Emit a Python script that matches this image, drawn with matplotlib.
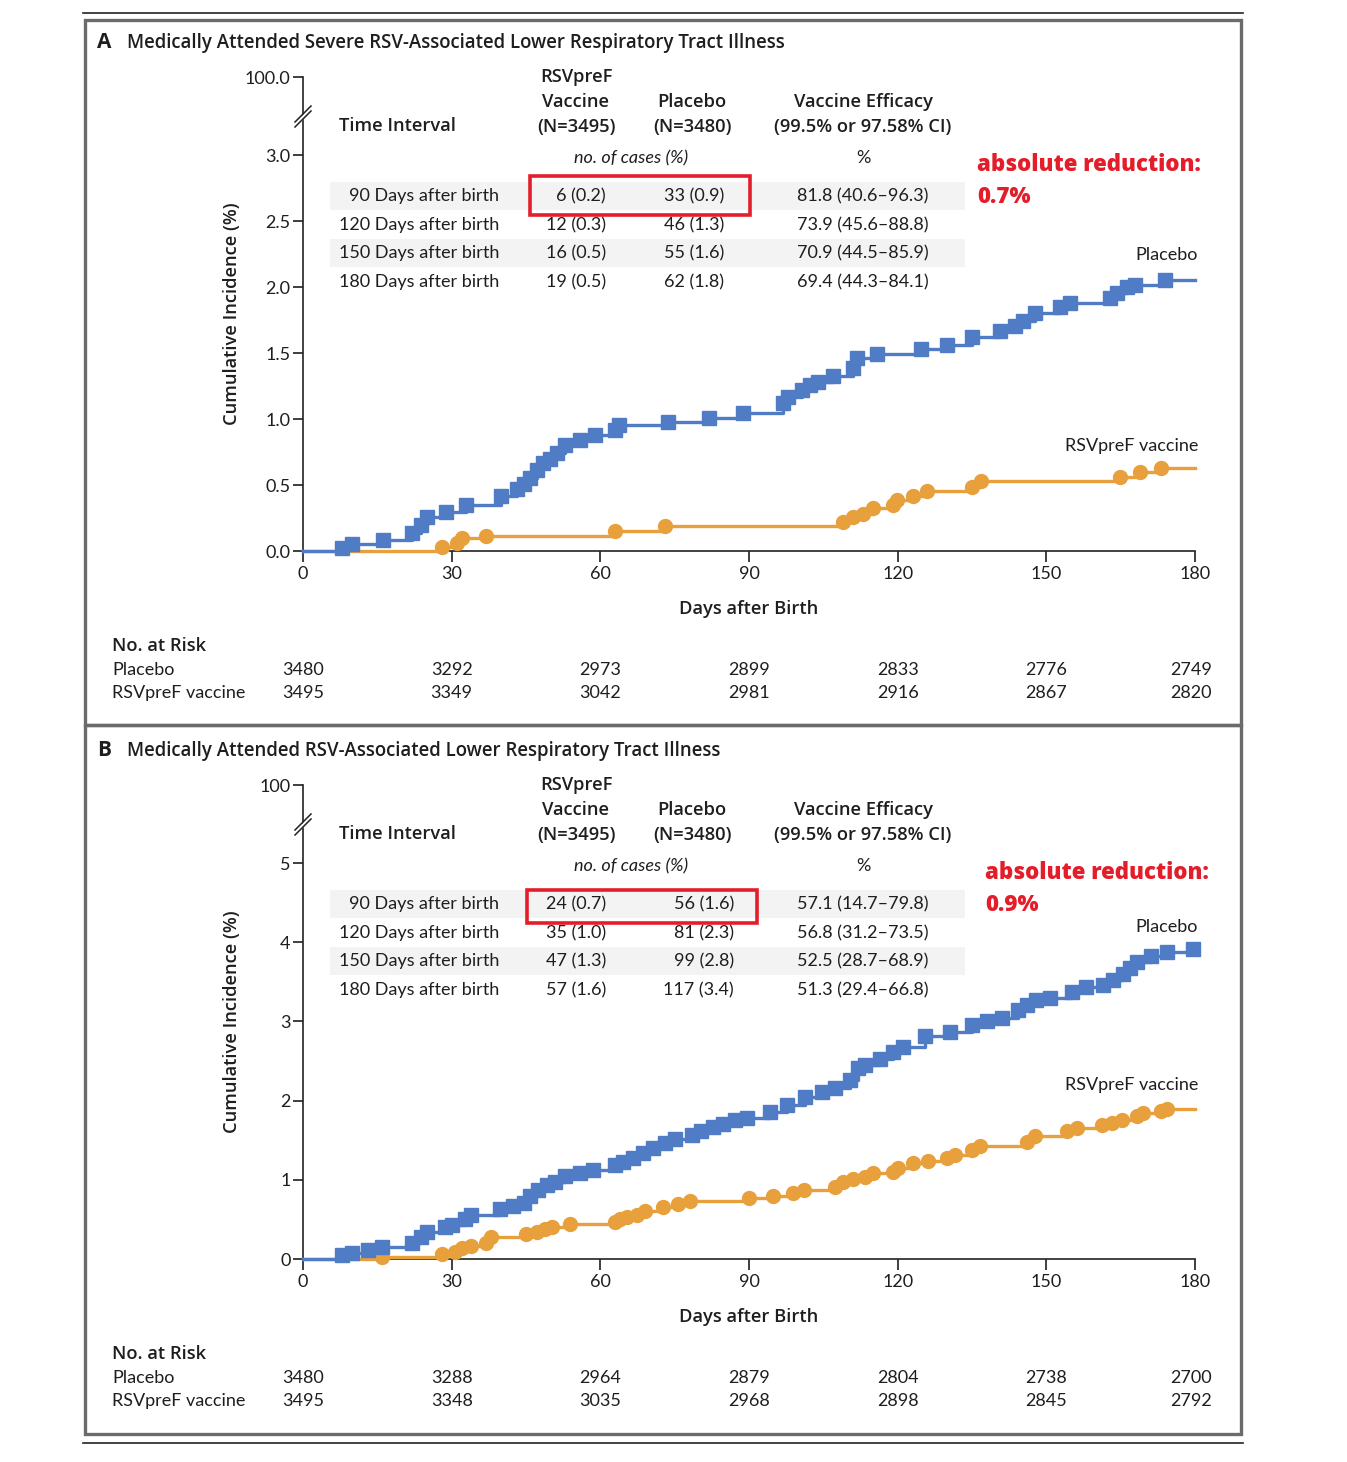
import matplotlib
matplotlib.use('Agg')
import matplotlib.pyplot as plt
from matplotlib.patches import Rectangle, Polygon
from matplotlib.lines import Line2D

W, H = 1347, 1462
plt.rcParams['font.family'] = ['Lato', 'DejaVu Sans']
BOLDFAM = ['Open Sans', 'DejaVu Sans']

BLUE = '#4f7cc4'
ORANGE = '#e8a03c'
RED = '#e31e2a'
TXT = '#1e1e1e'

# ---------------- data ----------------
x_ticks = [0, 30, 60, 90, 120, 150, 180]

# panel A: severe MA-LRTI
a_placebo_days = [7.8, 9.8, 16.1, 21.9, 23.9, 25.0, 28.8, 32.8, 40.0, 43.1, 44.5, 45.8, 47.2,
                  48.5, 49.8, 51.2, 52.9, 55.9, 58.9, 63.0, 63.8, 73.7, 81.9, 88.7, 96.9,
                  97.9, 100.6, 102.3, 104.0, 107.0, 111.0, 111.8, 115.8, 124.8, 129.9, 134.9,
                  140.6, 143.7, 145.3, 147.7, 152.7, 154.8, 162.8, 164.2, 166.2, 167.9, 173.9]
a_placebo_inc = [0.025, 0.053, 0.083, 0.139, 0.197, 0.26, 0.293, 0.348, 0.42, 0.47, 0.51, 0.555,
                 0.614, 0.664, 0.70, 0.74, 0.80, 0.84, 0.88, 0.917, 0.955, 0.975, 1.01, 1.044,
                 1.119, 1.17, 1.22, 1.258, 1.283, 1.326, 1.384, 1.46, 1.49, 1.528, 1.56, 1.62,
                 1.67, 1.705, 1.745, 1.805, 1.846, 1.876, 1.92, 1.957, 1.998, 2.015, 2.053]
a_vaccine_days = [28.0, 31.0, 32.0, 36.9, 63.0, 73.0, 109.0, 111.0, 113.0, 115.1, 119.1, 119.8,
                  123.0, 126.0, 134.9, 136.9, 164.9, 168.9, 173.1]
a_vaccine_inc = [0.033, 0.063, 0.096, 0.116, 0.152, 0.19, 0.217, 0.255, 0.28, 0.323, 0.348, 0.39,
                 0.42, 0.457, 0.487, 0.533, 0.558, 0.596, 0.631]
a_risk_placebo = [3480, 3292, 2973, 2899, 2833, 2776, 2749]
a_risk_vaccine = [3495, 3349, 3042, 2981, 2916, 2867, 2820]
a_rows = ['90 Days after birth', '120 Days after birth', '150 Days after birth', '180 Days after birth']
a_vac_cases = ['6 (0.2)', '12 (0.3)', '16 (0.5)', '19 (0.5)']
a_pla_cases = ['33 (0.9)', '46 (1.3)', '55 (1.6)', '62 (1.8)']
a_efficacy = ['81.8 (40.6\u201396.3)', '73.9 (45.6\u201388.8)', '70.9 (44.5\u201385.9)', '69.4 (44.3\u201384.1)']
a_yticks = [0.0, 0.5, 1.0, 1.5, 2.0, 2.5, 3.0]
a_ylabels = ['0.0', '0.5', '1.0', '1.5', '2.0', '2.5', '3.0']

# panel B: MA-LRTI
b_placebo_days = [7.8, 9.8, 13.2, 15.9, 21.9, 23.9, 25.0, 28.7, 30.0, 32.7, 34.0, 39.7, 42.4,
                  44.5, 45.8, 47.5, 49.2, 50.8, 52.9, 55.9, 58.6, 63.0, 64.6, 66.6, 68.7, 70.7,
                  73.0, 75.1, 78.4, 80.4, 82.8, 84.8, 87.2, 89.5, 94.2, 97.6, 101.3, 104.7,
                  107.3, 110.4, 112.0, 113.4, 116.4, 119.1, 121.1, 125.5, 130.5, 134.9, 138.0,
                  141.0, 144.3, 146.0, 148.0, 150.7, 155.1, 158.1, 161.5, 163.5, 165.5, 166.9,
                  168.2, 171.2, 174.3, 179.5]
b_placebo_inc = [0.05, 0.072, 0.114, 0.155, 0.206, 0.28, 0.345, 0.41, 0.43, 0.51, 0.555, 0.627,
                 0.67, 0.71, 0.79, 0.87, 0.934, 0.976, 1.05, 1.08, 1.13, 1.19, 1.23, 1.28, 1.34,
                 1.40, 1.46, 1.52, 1.565, 1.616, 1.67, 1.70, 1.755, 1.776, 1.86, 1.94, 2.05,
                 2.11, 2.155, 2.26, 2.41, 2.45, 2.53, 2.61, 2.68, 2.81, 2.87, 2.955, 3.0, 3.04,
                 3.14, 3.21, 3.27, 3.30, 3.37, 3.43, 3.46, 3.52, 3.60, 3.67, 3.75, 3.83, 3.88, 3.91]
b_vaccine_days = [15.9, 28.0, 30.7, 32.0, 34.0, 37.0, 38.0, 45.1, 47.2, 48.8, 50.2, 53.9, 63.0,
                  64.0, 65.3, 67.3, 69.0, 72.7, 75.7, 78.1, 89.9, 94.9, 98.9, 101.0, 107.3,
                  109.0, 111.0, 113.4, 115.1, 119.1, 120.1, 123.1, 126.2, 129.9, 131.6, 134.9,
                  136.6, 146.0, 147.7, 154.1, 156.1, 161.2, 163.2, 165.2, 168.2, 169.5, 173.2,
                  174.3]
b_vaccine_inc = [0.03, 0.063, 0.092, 0.135, 0.164, 0.206, 0.28, 0.31, 0.345, 0.375, 0.41, 0.44,
                 0.47, 0.50, 0.53, 0.555, 0.60, 0.66, 0.69, 0.735, 0.766, 0.795, 0.83, 0.87,
                 0.913, 0.976, 1.006, 1.04, 1.08, 1.10, 1.145, 1.21, 1.24, 1.28, 1.31, 1.376,
                 1.43, 1.48, 1.55, 1.62, 1.66, 1.69, 1.72, 1.755, 1.80, 1.84, 1.87, 1.89]
b_risk_placebo = [3480, 3288, 2964, 2879, 2804, 2738, 2700]
b_risk_vaccine = [3495, 3348, 3035, 2968, 2898, 2845, 2792]
b_rows = a_rows
b_vac_cases = ['24 (0.7)', '35 (1.0)', '47 (1.3)', '57 (1.6)']
b_pla_cases = ['56 (1.6)', '81 (2.3)', '99 (2.8)', '117 (3.4)']
b_efficacy = ['57.1 (14.7\u201379.8)', '56.8 (31.2\u201373.5)', '52.5 (28.7\u201368.9)', '51.3 (29.4\u201366.8)']
b_yticks = [0, 1, 2, 3, 4, 5]
b_ylabels = ['0', '1', '2', '3', '4', '5']

panels = [
    dict(letter='A', title='Medically Attended Severe RSV-Associated Lower Respiratory Tract Illness',
         pd=a_placebo_days, pi=a_placebo_inc, vd=a_vaccine_days, vi=a_vaccine_inc,
         rp=a_risk_placebo, rv=a_risk_vaccine, rows=a_rows, vc=a_vac_cases, pc=a_pla_cases,
         ef=a_efficacy, yt=a_yticks, yl=a_ylabels, top_label='100.0', reduction='0.7%',
         off=0, y0=551, ppu=132.0, pla_col=724, box=(530, 750, 176, 215), red_x=977,
         pla_lab_y=255, vac_lab_y=446),
    dict(letter='B', title='Medically Attended RSV-Associated Lower Respiratory Tract Illness',
         pd=b_placebo_days, pi=b_placebo_inc, vd=b_vaccine_days, vi=b_vaccine_inc,
         rp=b_risk_placebo, rv=b_risk_vaccine, rows=b_rows, vc=b_vac_cases, pc=b_pla_cases,
         ef=b_efficacy, yt=b_yticks, yl=b_ylabels, top_label='100', reduction='0.9%',
         off=708, y0=1259, ppu=79.2, pla_col=734, box=(527, 757, 890, 923), red_x=985,
         pla_lab_y=927, vac_lab_y=1085),
]

fig = plt.figure(figsize=(W / 100, H / 100), dpi=100)


def fx(x):
    return x / W


def fy(y):
    return 1 - y / H


def ftext(x, y, s, **kw):
    kw.setdefault('color', TXT)
    kw.setdefault('va', 'center')
    fig.text(fx(x), fy(y), s, **kw)


def btext(x, y, s, **kw):
    kw.setdefault('weight', 'semibold')
    ftext(x, y, s, family=BOLDFAM, **kw)


X0, X1 = 303, 1195
ppd = (X1 - X0) / 180.0

# outer rules and frames
fig.add_artist(Line2D([fx(83), fx(1243)], [fy(13), fy(13)], color='#222222', lw=1.2))
fig.add_artist(Line2D([fx(83), fx(1243)], [fy(1443), fy(1443)], color='#222222', lw=1.2))
for (t, b) in [(20, 725), (725, 1434)]:
    fig.add_artist(Rectangle((fx(85), fy(b)), fx(1241) - fx(85), fy(t) - fy(b),
                             fill=False, edgecolor='#6b6b6b', lw=2.4))

for p in panels:
    o = p['off']
    top_px = 77 + o
    ytop = (p['y0'] - top_px) / p['ppu']
    ax = fig.add_axes([fx(X0), fy(p['y0']), fx(X1) - fx(X0), (p['y0'] - top_px) / H])
    ax.set_xlim(0, 180)
    ax.set_ylim(0, ytop)
    for s in ['top', 'right']:
        ax.spines[s].set_visible(False)
    for s in ['left', 'bottom']:
        ax.spines[s].set_linewidth(1.2)
        ax.spines[s].set_color('#222222')
    ax.set_xticks(x_ticks)
    ax.set_xticklabels([str(v) for v in x_ticks])
    ax.set_yticks(list(p['yt']) + [ytop])
    ax.set_yticklabels(list(p['yl']) + [p['top_label']])
    ax.tick_params(axis='x', direction='out', length=8, width=1.2, pad=3, labelsize=13, colors=TXT)
    ax.tick_params(axis='y', direction='out', length=7, width=1.2, pad=2, labelsize=13, colors=TXT)
    ax.set_facecolor('none')

    # curves
    vx = [0] + p['vd'] + [180]
    vy = [0] + p['vi'] + [p['vi'][-1]]
    px_ = [0] + p['pd'] + [180]
    py_ = [0] + p['pi'] + [p['pi'][-1]]
    ax.step(vx, vy, where='post', color=ORANGE, lw=2.4, zorder=3, clip_on=False)
    ax.plot(p['vd'], p['vi'], 'o', color=ORANGE, ms=10, zorder=3, clip_on=False)
    ax.step(px_, py_, where='post', color=BLUE, lw=2.4, zorder=4, clip_on=False)
    ax.plot(p['pd'], p['pi'], 's', color=BLUE, ms=10, zorder=4, clip_on=False)

    # axis break marks
    by = 114 + o
    fig.add_artist(Polygon([(fx(296), fy(by + 9)), (fx(309), fy(by - 6)),
                            (fx(309), fy(by - 1)), (fx(296), fy(by + 14))],
                           closed=True, facecolor='white', edgecolor='none', zorder=5))
    for d in (0, 5):
        fig.add_artist(Line2D([fx(295), fx(311)], [fy(by + 9 + d - 1), fy(by - 8 + d)],
                              color='#222222', lw=1.1, zorder=6))

    # titles
    btext(97, 43 + o, p['letter'], fontsize=15, weight='bold')
    btext(127, 43 + o, p['title'], fontsize=13.4)
    ylab_y = 314 + o
    ax.set_ylabel('Cumulative Incidence (%)', fontsize=13.2, weight='semibold', family=BOLDFAM,
                  color=TXT)
    ax.yaxis.set_label_coords((232 - X0) / (X1 - X0), (p['y0'] - ylab_y) / (p['y0'] - top_px))
    ax.set_xlabel('Days after Birth', fontsize=13.2, weight='semibold', family=BOLDFAM, color=TXT)
    ax.xaxis.set_label_coords(0.5, -(609 + o - p['y0']) / (p['y0'] - top_px))
    ax.xaxis.label.set_va('center')
    ax.yaxis.label.set_va('center')

    # table
    for s, yy in [('RSVpreF', 77), ('Vaccine', 102), ('(N=3495)', 127)]:
        btext(576, yy + o, s, ha='center', fontsize=13.2)
    btext(692, 102 + o, 'Placebo', ha='center', fontsize=13.2)
    btext(692, 127 + o, '(N=3480)', ha='center', fontsize=13.2)
    btext(863, 102 + o, 'Vaccine Efficacy', ha='center', fontsize=13.2)
    btext(863, 127 + o, '(99.5% or 97.58% CI)', ha='center', fontsize=13.2)
    btext(339, 126 + o, 'Time Interval', ha='left', fontsize=13.2)
    ftext(631, 158 + o, 'no. of cases (%)', ha='center', fontsize=13, style='italic')
    ftext(863, 158 + o, '%', ha='center', fontsize=13)
    row_y = [196, 225, 253, 282]
    for i, yy in enumerate(row_y):
        if i % 2 == 0:
            fig.add_artist(Rectangle((fx(330), fy(yy + o + 14)), fx(965) - fx(330), 28 / H,
                                     facecolor='#f3f3f3', edgecolor='none', zorder=0))
        ftext(499, yy + o, p['rows'][i], ha='right', fontsize=13)
        ftext(606, yy + o, p['vc'][i], ha='right', fontsize=13)
        ftext(p['pla_col'], yy + o, p['pc'][i], ha='right', fontsize=13)
        ftext(863, yy + o, p['ef'][i], ha='center', fontsize=13)
    bx0, bx1, by0, by1 = p['box']
    fig.add_artist(Rectangle((fx(bx0), fy(by1)), fx(bx1) - fx(bx0), (by1 - by0) / H,
                             fill=False, edgecolor=RED, lw=2.6, zorder=7))
    btext(p['red_x'], 165 + o, 'absolute reduction:', ha='left', fontsize=16, weight='heavy', color=RED)
    btext(p['red_x'], 197 + o, p['reduction'], ha='left', fontsize=16, weight='heavy', color=RED)

    # curve labels
    ftext(1198, p['pla_lab_y'], 'Placebo', ha='right', fontsize=13)
    ftext(1198, p['vac_lab_y'], 'RSVpreF vaccine', ha='right', fontsize=13)

    # number at risk
    btext(112, 646 + o, 'No. at Risk', ha='left', fontsize=13.2)
    ftext(112, 670 + o, 'Placebo', ha='left', fontsize=13)
    ftext(112, 693 + o, 'RSVpreF vaccine', ha='left', fontsize=13)
    for d, n1, n2 in zip(x_ticks, p['rp'], p['rv']):
        xx = X0 + d * ppd - (4 if d == 180 else 0)
        ftext(xx, 670 + o, str(n1), ha='center', fontsize=13)
        ftext(xx, 693 + o, str(n2), ha='center', fontsize=13)

fig.savefig('out.png', dpi=100)
